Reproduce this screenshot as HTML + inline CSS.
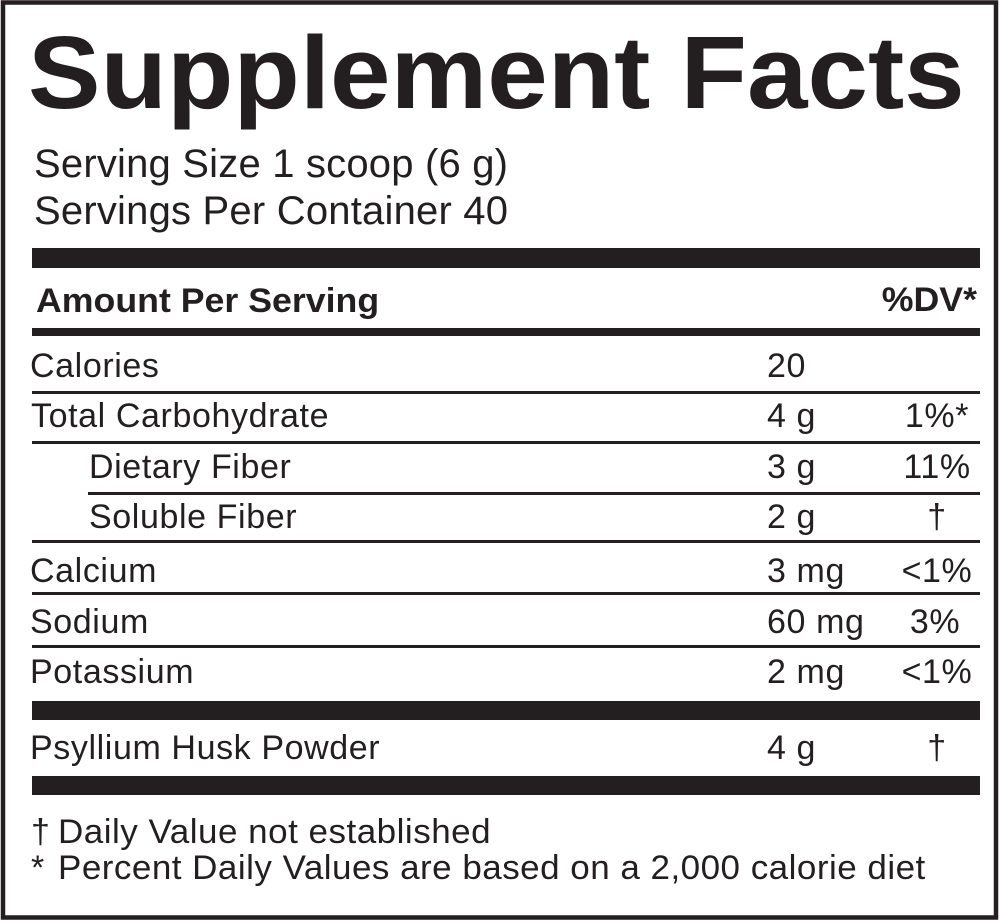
<!DOCTYPE html>
<html>
<head>
<meta charset="utf-8">
<style>
  html,body{margin:0;padding:0;background:#fff;}
  svg{display:block;}
  text{font-family:"Liberation Sans",Arial,sans-serif;fill:#231f20;}
  .r{font-size:34px;letter-spacing:0.6px;}
  .b{font-weight:bold;}
</style>
</head>
<body>
<svg width="1000" height="922" viewBox="0 0 1000 922" xmlns="http://www.w3.org/2000/svg">
  <rect x="0" y="0" width="1000" height="922" fill="#fff"/>
  <rect x="3" y="2.5" width="993" height="915" fill="none" stroke="#231f20" stroke-width="4.5"/>

  <!-- Title -->
  <text transform="translate(28,108) scale(1.056,1)" x="0" y="0" class="b" font-size="103">Supplement Facts</text>
  <text x="34" y="177" font-size="40" textLength="474" lengthAdjust="spacing">Serving Size 1 scoop (6 g)</text>
  <text x="34" y="224" font-size="40" textLength="474" lengthAdjust="spacing">Servings Per Container 40</text>

  <!-- bars and lines -->
  <g fill="#231f20">
    <rect x="32" y="248" width="948" height="20"/>
    <rect x="32" y="328" width="948" height="8"/>
    <rect x="32" y="391" width="948" height="3"/>
    <rect x="32" y="441" width="948" height="3"/>
    <rect x="88" y="492" width="892" height="3"/>
    <rect x="32" y="540" width="948" height="3"/>
    <rect x="32" y="592" width="948" height="3"/>
    <rect x="32" y="645" width="948" height="3"/>
    <rect x="32" y="701" width="948" height="19"/>
    <rect x="32" y="776" width="948" height="19"/>
  </g>

  <!-- header -->
  <text transform="translate(36,312) scale(1.05,1)" x="0" y="0" class="b" font-size="34">Amount Per Serving</text>
  <text transform="translate(977,311) scale(1.05,1)" x="0" y="0" class="b" font-size="34" text-anchor="end">%DV*</text>

  <!-- rows -->
  <text x="30" y="377" class="r">Calories</text>
  <text x="767" y="377" class="r">20</text>

  <text x="31" y="427" class="r">Total Carbohydrate</text>
  <text x="767" y="427" class="r">4 g</text>
  <text x="937" y="427" class="r" text-anchor="middle">1%*</text>

  <text x="89" y="478" class="r">Dietary Fiber</text>
  <text x="767" y="478" class="r">3 g</text>
  <text x="937" y="478" class="r" text-anchor="middle">11%</text>

  <text x="89" y="528" class="r">Soluble Fiber</text>
  <text x="767" y="528" class="r">2 g</text>
  <text x="937" y="528" class="r" text-anchor="middle">†</text>

  <text x="30" y="582" class="r">Calcium</text>
  <text x="767" y="582" class="r">3 mg</text>
  <text x="937" y="582" class="r" text-anchor="middle">&lt;1%</text>

  <text x="30" y="633" class="r">Sodium</text>
  <text x="767" y="633" class="r">60 mg</text>
  <text x="935" y="633" class="r" text-anchor="middle">3%</text>

  <text x="30" y="683" class="r">Potassium</text>
  <text x="767" y="683" class="r">2 mg</text>
  <text x="937" y="683" class="r" text-anchor="middle">&lt;1%</text>

  <text x="30" y="759" class="r">Psyllium Husk Powder</text>
  <text x="767" y="759" class="r">4 g</text>
  <text x="937" y="759" class="r" text-anchor="middle">†</text>

  <!-- footnotes -->
  <text x="31" y="843" class="r">†</text>
  <text transform="translate(58,843) scale(1.03,1)" x="0" y="0" font-size="34" textLength="420" lengthAdjust="spacing">Daily Value not established</text>
  <text x="31" y="879" class="r">*</text>
  <text transform="translate(58,879) scale(1.03,1)" x="0" y="0" font-size="34" textLength="842" lengthAdjust="spacing">Percent Daily Values are based on a 2,000 calorie diet</text>
</svg>
</body>
</html>
